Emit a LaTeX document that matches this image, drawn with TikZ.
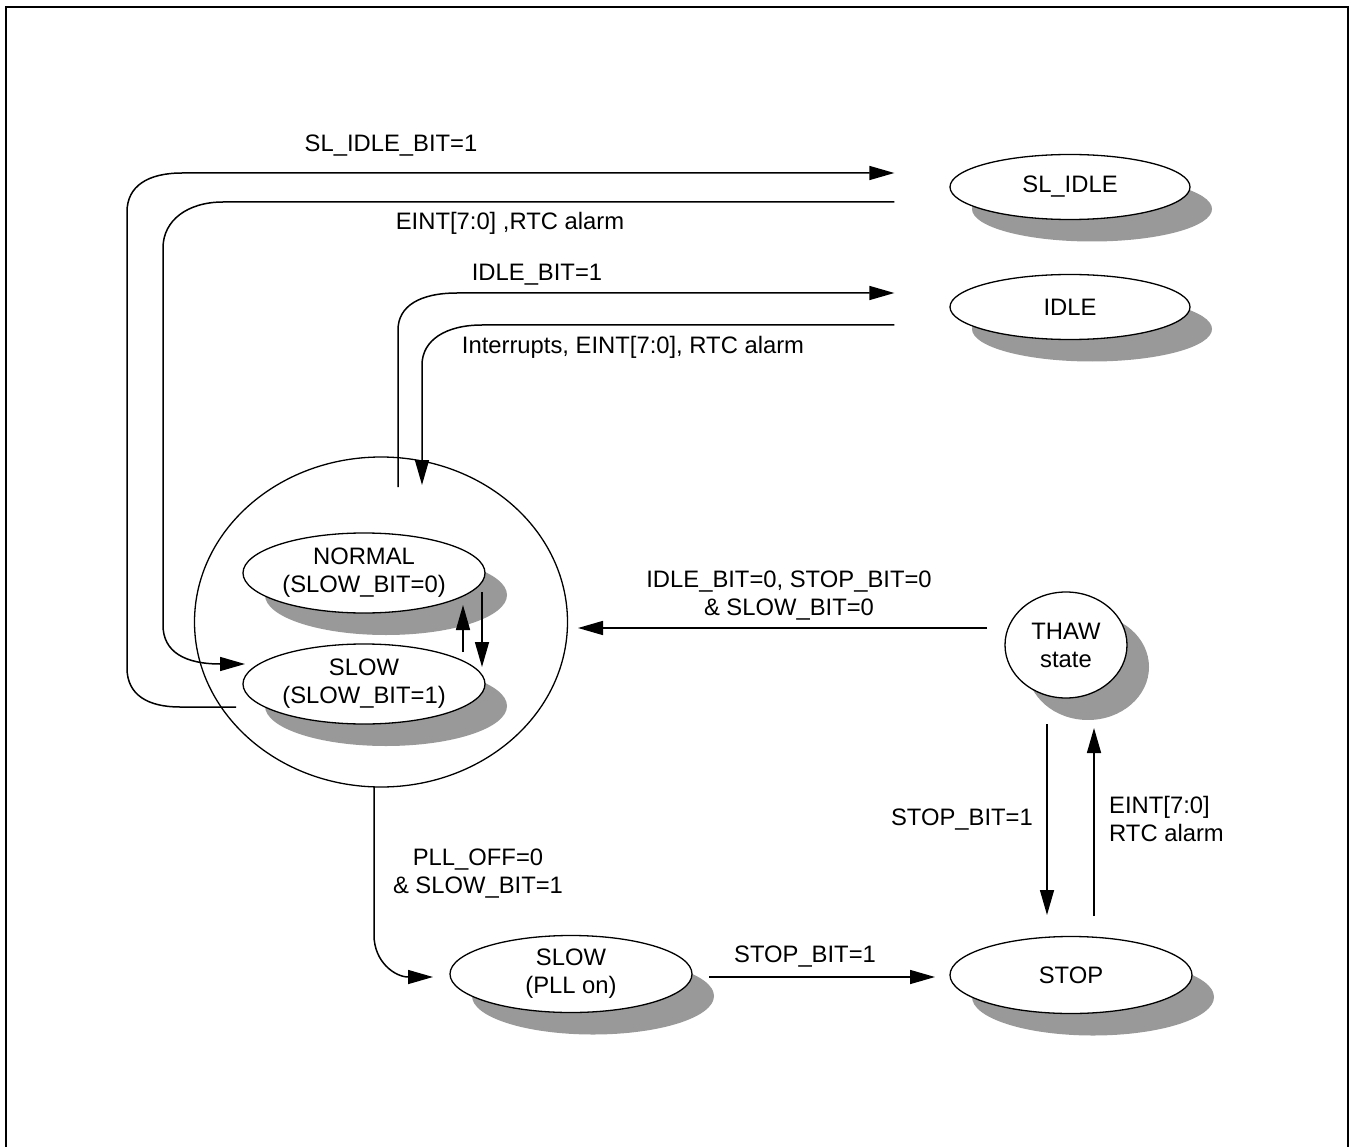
\documentclass[tikz,border=0pt]{standalone}
\usepackage{fontspec}
\setmainfont{Liberation Sans}
\usetikzlibrary{shapes.geometric,arrows.meta,shadows}
\definecolor{shadowgray}{HTML}{999999}
\begin{document}
\begin{tikzpicture}[x=1pt,y=-1pt,
  every node/.style={font=\fontsize{23.8}{28}\selectfont},
  st/.style={ellipse,draw,line width=1.3pt,fill=white,inner sep=0pt,align=center,
    drop shadow={shadow xshift=22pt,shadow yshift=-22pt,fill=shadowgray,opacity=1}},
  conn/.style={line width=1.5pt},
  arr/.style={conn,-{Triangle[length=25pt,width=14pt]}},
  lbl/.style={align=center,inner sep=0pt}]
\useasboundingbox (0,0) rectangle (1354,1147);
\draw[line width=2.5pt] (6,1160) -- (6,7) -- (1348,7) -- (1348,1160);

% states
\node[draw,ellipse,line width=1.3pt,minimum width=373pt,minimum height=330pt,inner sep=0pt] (bigc) at (381,622) {};
\node[st,minimum width=240pt,minimum height=65pt] (slidle) at (1070,187) {SL\_IDLE};
\node[st,minimum width=240pt,minimum height=65pt] (idle) at (1070,307) {IDLE};
\node[st,minimum width=242pt,minimum height=80pt] (normal) at (364,573) {NORMAL\\(SLOW\_BIT=0)};
\node[st,minimum width=242pt,minimum height=80pt] (slow) at (364,684) {SLOW\\(SLOW\_BIT=1)};
\node[st,minimum width=122pt,minimum height=106pt] (thaw) at (1066,645) {THAW\\state};
\node[st,minimum width=242pt,minimum height=77pt] (slowpll) at (571,974) {SLOW\\(PLL on)};
\node[st,minimum width=242pt,minimum height=77pt] (stop) at (1071,975) {STOP};

% free connector ends
\coordinate (a1s) at (236,707);
\coordinate (a1e) at ([xshift=-55pt]slidle.west |- 0,173);
\coordinate (a2s) at ([xshift=-55pt]slidle.west |- 0,202);
\coordinate (a2e) at (245,664);
\coordinate (a3s) at (398,487);
\coordinate (a3e) at ([xshift=-55pt]idle.west |- 0,293);
\coordinate (a4s) at ([xshift=-55pt]idle.west |- 0,325);
\coordinate (a4e) at (422,485);

% connectors
\draw[arr] (a1s) -- (180,707) .. controls (148,707) and (127,695) .. (127,668) -- (127,212) .. controls (127,186) and (148,173) .. (182,173) -- (a1e);
\draw[arr] (a2s) -- (223,202) .. controls (188,202) and (163,220) .. (163,248) -- (163,625) .. controls (163,652) and (185,664) .. (a2e);
\draw[arr] (a3s) -- (398,330) .. controls (398,306) and (420,293) .. (457,293) -- (a3e);
\draw[arr] (a4s) -- (482,325) .. controls (446,325) and (422,340) .. (422,365) -- (a4e);

\draw[arr] (463,652) -- (463,605);
\draw[arr] (482,592) -- (482,667);

\draw[arr] (374,787) -- (374,935) .. controls (374,962) and (395,977) .. (433,977);
\draw[arr] (709,977) -- (935,977);
\draw[arr] (987,628) -- (578,628);
\draw[arr] (1047,724) -- (1047,915);
\draw[arr] (1094,916) -- (1094,728);

% labels
\node[lbl] (l1) at (391,146) {SL\_IDLE\_BIT=1};
\node[lbl] (l2) at (510,223) {EINT[7:0] ,RTC alarm};
\node[lbl] (l3) at (537,275) {IDLE\_BIT=1};
\node[lbl] (l4) at (633,347) {Interrupts, EINT[7:0], RTC alarm};
\node[lbl] (l5) at (789,596) {IDLE\_BIT=0, STOP\_BIT=0\\\& SLOW\_BIT=0};
\node[lbl] (l6) at (478,874) {PLL\_OFF=0\\\& SLOW\_BIT=1};
\node[lbl] (l7) at (805,957) {STOP\_BIT=1};
\node[lbl,anchor=east] (l8) at (1033,820) {STOP\_BIT=1};
\node[lbl,anchor=west,align=left] (l9) at (1109,819) {EINT[7:0]\\RTC alarm};
\end{tikzpicture}
\end{document}
